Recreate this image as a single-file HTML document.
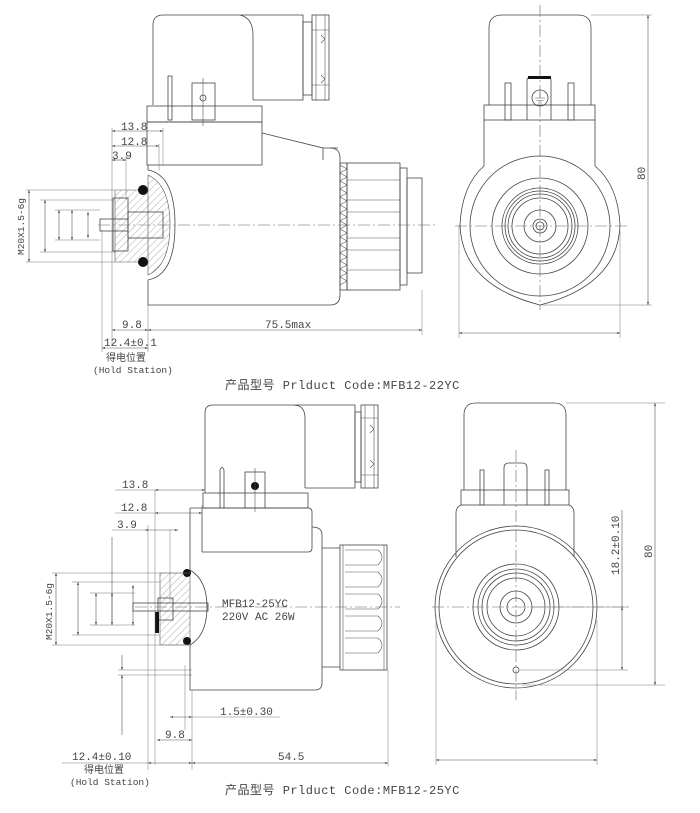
<!DOCTYPE html>
<html><head><meta charset="utf-8"><style>
html,body{margin:0;padding:0;background:#fff;}
svg{display:block;}
text{font-family:"Liberation Mono","Noto Sans CJK SC",monospace;fill:#444;font-size:11px;}
.s{fill:none;stroke:#444;stroke-width:0.8;}
.t{fill:none;stroke:#555;stroke-width:0.6;}
.c{fill:none;stroke:#666;stroke-width:0.6;stroke-dasharray:12 3 2 3;}
.h{fill:none;stroke:#777;stroke-width:0.5;}
</style></head><body>
<svg width="700" height="813" viewBox="0 0 700 813" xmlns="http://www.w3.org/2000/svg">
<defs>
<marker id="a" viewBox="0 0 10 10" refX="10" refY="5" markerWidth="7" markerHeight="5" orient="auto-start-reverse"><path d="M0,2 L10,5 L0,8z" fill="#333"/></marker>
<pattern id="hp" width="5" height="5" patternUnits="userSpaceOnUse" patternTransform="rotate(45)"><line x1="0" y1="0" x2="0" y2="5" stroke="#777" stroke-width="0.6"/></pattern>
</defs>

<!-- ============ TOP LEFT ============ -->
<g>
<path class="s" d="M153,105 V25 Q153,15 163,15 H303 V100 H253 M253,100 V35 Q253,18 240,15"/>
<rect class="s" x="303" y="22" width="9" height="73"/>
<rect class="s" x="312" y="15" width="17" height="85"/>
<path class="t" d="M316,15 V100 M325,15 V100 M312,30 H329 M312,85 H329 M321,35 l4,4 l-4,4 M321,75 l4,4 l-4,4"/>
<rect class="s" x="168" y="76" width="4" height="44"/>
<rect class="s" x="192" y="83" width="23" height="37"/>
<circle class="s" cx="203" cy="98" r="3"/>
<line class="t" x1="203" y1="78" x2="203" y2="126"/>
<rect class="s" x="147" y="106" width="115" height="16"/>
<rect class="s" x="147" y="122" width="115" height="43"/>
<path class="s" d="M262,133 L323,148 V160 M323,148 H338"/>
<path class="s" d="M148,165 V170 M148,280 V305 H330 Q340,305 340,295 V158 Q340,148 330,148"/>
<path class="s" d="M148,170 Q175,175 175,225 Q175,275 148,280"/>
<rect class="s" x="340" y="163" width="7" height="127"/>
<path class="t" d="M340,165 l7,4 l-7,4 l7,4 l-7,4 l7,4 l-7,4 l7,4 l-7,4 l7,4 l-7,4 l7,4 l-7,4 l7,4 l-7,4 l7,4 l-7,4 l7,4 l-7,4 l7,4 l-7,4 l7,4 l-7,4 l7,4 l-7,4 l7,4 l-7,4 l7,4 l-7,4 l7,4 l-7,4"/>
<rect class="s" x="347" y="163" width="53" height="127"/>
<path class="t" d="M347,180 H400 M347,200 H400 M347,212 H400 M347,238 H400 M347,250 H400 M347,270 H400"/>
<rect class="s" x="400" y="168" width="7" height="117"/>
<rect class="s" x="407" y="178" width="15" height="95"/>
<path d="M115,190 H148 V262 H115 Z M148,175 Q170,185 170,225 Q170,265 148,275 Z" fill="url(#hp)" stroke="#555" stroke-width="0.6"/>
<rect class="s" x="128" y="212" width="35" height="26" fill="#fff"/>
<rect class="s" x="100" y="219" width="28" height="12" fill="#fff"/>
<rect class="s" x="113" y="198" width="15" height="53" fill="none"/>
<circle cx="143" cy="190" r="5" fill="#111"/>
<circle cx="143" cy="262" r="5" fill="#111"/>
<line class="c" x1="98" y1="225" x2="436" y2="225"/>
<path class="h" d="M112,128 V345 M126,156 V200 M163,128 V165 M159,144 V170 M148,305 V352 M102,230 V352 M422,290 V335"/>
<line class="t" x1="112" y1="131" x2="163" y2="131" marker-start="url(#a)" marker-end="url(#a)"/>
<line class="t" x1="112" y1="146" x2="159" y2="146" marker-start="url(#a)" marker-end="url(#a)"/>
<line class="t" x1="112" y1="160" x2="126" y2="160" marker-start="url(#a)" marker-end="url(#a)"/>
<text x="121" y="130">13.8</text><text x="121" y="145">12.8</text><text x="112" y="159">3.9</text>
<line class="t" x1="112" y1="330" x2="148" y2="330" marker-start="url(#a)" marker-end="url(#a)"/>
<line class="t" x1="148" y1="330" x2="422" y2="330" marker-start="url(#a)" marker-end="url(#a)"/>
<line class="t" x1="102" y1="348" x2="148" y2="348" marker-start="url(#a)" marker-end="url(#a)"/>
<text x="122" y="328">9.8</text><text x="265" y="328">75.5max</text><text x="104" y="346">12.4±0.1</text>
<text x="106" y="361" style="font-size:10px">得电位置</text>
<text x="93" y="373" style="font-size:9.5px">(Hold Station)</text>
<path class="h" d="M26,190 H115 M40,200 H115 M55,210 H100 M55,240 H100 M26,262 H115 M40,252 H115"/>
<line class="t" x1="29" y1="190" x2="29" y2="262" marker-start="url(#a)" marker-end="url(#a)"/>
<line class="t" x1="45" y1="200" x2="45" y2="252" marker-start="url(#a)" marker-end="url(#a)"/>
<line class="t" x1="59" y1="210" x2="59" y2="240" marker-start="url(#a)" marker-end="url(#a)"/>
<line class="t" x1="72" y1="210" x2="72" y2="240" marker-start="url(#a)" marker-end="url(#a)"/>
<line class="t" x1="88" y1="212" x2="88" y2="238" marker-start="url(#a)" marker-end="url(#a)"/>
<text transform="translate(24,255) rotate(-90)" style="font-size:9.5px">M20X1.5-6g</text>
</g>
<text x="225" y="389" style="font-size:12px;letter-spacing:0.5px">产品型号 Prlduct Code:MFB12-22YC</text>

<!-- ============ TOP RIGHT ============ -->
<g>
<path class="s" d="M489,105 V28 Q489,15 502,15 H578 Q591,15 591,28 V105"/>
<rect class="s" x="484" y="105" width="111" height="15"/>
<path class="s" d="M484,120 V166 Q462,185 460,225 Q462,285 540,305 Q618,285 620,225 Q618,185 595,166 V120"/>
<circle class="s" cx="540" cy="226" r="70"/>
<circle class="s" cx="540" cy="226" r="48"/>
<circle class="s" cx="540" cy="226" r="38"/>
<circle class="s" cx="540" cy="226" r="35"/>
<circle class="s" cx="540" cy="226" r="32"/>
<circle class="s" cx="540" cy="226" r="28"/>
<circle class="s" cx="540" cy="226" r="16"/>
<circle class="s" cx="540" cy="226" r="7"/>
<circle class="s" cx="540" cy="226" r="4"/>
<rect class="s" x="505" y="83" width="6" height="37"/>
<rect class="s" x="568" y="83" width="6" height="37"/>
<path class="s" d="M527,120 V80 Q527,77 532,77 H547 Q551,77 551,80 V120"/>
<rect x="528" y="76" width="23" height="3" fill="#111"/>
<circle class="s" cx="540" cy="98" r="8"/>
<path class="t" d="M540,92 V98 M535,98 H545 M536.5,100.5 H543.5 M538,103 H542"/>
<line class="c" x1="540" y1="5" x2="540" y2="310"/>
<line class="c" x1="455" y1="226" x2="630" y2="226"/>
<path class="h" d="M591,15 H652 M540,305 H652 M459,225 V338 M620,230 V338"/>
<line class="t" x1="648" y1="15" x2="648" y2="305" marker-start="url(#a)" marker-end="url(#a)"/>
<text transform="translate(645,180) rotate(-90)">80</text>
<line class="t" x1="459" y1="333" x2="620" y2="333" marker-start="url(#a)" marker-end="url(#a)"/>
</g>

<!-- ============ BOTTOM LEFT ============ -->
<g>
<path class="s" d="M205,493 V413 Q205,405 213,405 H355 V488 H305 M305,488 V418 Q305,405 293,405"/>
<rect class="s" x="355" y="412" width="6" height="70"/>
<rect class="s" x="361" y="405" width="17" height="83"/>
<path class="t" d="M365,405 V488 M374,405 V488 M361,418 H378 M361,475 H378 M370,425 l4,4 l-4,4 M370,460 l4,4 l-4,4"/>
<path class="s" d="M220,508 V470 Q222,465 224,470 V508"/>
<rect class="s" x="245" y="472" width="20" height="36"/>
<circle cx="255" cy="486" r="4" fill="#111"/>
<line class="t" x1="255" y1="468" x2="255" y2="512"/>
<rect class="s" x="203" y="493" width="105" height="15"/>
<path class="s" d="M190,508 H308 Q312,508 312,512 V548 Q312,552 308,552 H202"/>
<path class="s" d="M190,508 V570 M190,645 V690 H315 Q322,690 322,683 V535 Q322,527 312,527"/>
<path class="s" d="M202,508 V552"/>
<path class="s" d="M190,570 Q207,580 207,607 Q207,635 190,645"/>
<path class="s" d="M322,548 H340 M322,667 H340"/>
<rect class="s" x="340" y="545" width="47" height="125"/>
<path class="t" d="M343,545 V670 M384,545 V670 M345,550 H378 Q386,557 378,565 H345 M345,572 H378 Q386,579 378,587 H345 M345,594 H378 Q386,601 378,609 H345 M345,616 H378 Q386,623 378,631 H345 M345,638 H378 Q386,645 378,653 H345"/>
<path d="M160,573 H190 V645 H160 Z" fill="url(#hp)" stroke="#555" stroke-width="0.6"/>
<rect class="s" x="158" y="598" width="15" height="22" fill="#fff"/>
<rect class="s" x="133" y="603" width="75" height="8" fill="#fff"/>
<rect x="155" y="612" width="4" height="21" fill="#111"/>
<circle cx="187" cy="573" r="4" fill="#111"/>
<circle cx="187" cy="641" r="4" fill="#111"/>
<line class="c" x1="135" y1="607" x2="400" y2="607"/>
<text x="222" y="607" style="font-size:11px">MFB12-25YC</text>
<text x="222" y="620" style="font-size:11px">220V AC 26W</text>
<path class="h" d="M155,490 V765 M148,525 V770 M170,530 V600 M192,690 V770 M185,665 V730 M205,478 V493 M202,505 V515"/>
<line class="t" x1="155" y1="490" x2="205" y2="490" marker-start="url(#a)" marker-end="url(#a)"/>
<line class="t" x1="155" y1="513" x2="202" y2="513" marker-start="url(#a)" marker-end="url(#a)"/>
<line class="t" x1="145" y1="530" x2="178" y2="530" marker-start="url(#a)" marker-end="url(#a)"/>
<path class="h" d="M115,490 H155 M115,513 H155 M112,530 H145"/>
<text x="122" y="488">13.8</text><text x="121" y="511">12.8</text><text x="117" y="528">3.9</text>
<line class="t" x1="170" y1="717" x2="192" y2="717" marker-start="url(#a)" marker-end="url(#a)"/>
<path class="h" d="M192,717 H280"/>
<text x="220" y="715">1.5±0.30</text>
<line class="t" x1="157" y1="740" x2="192" y2="740" marker-start="url(#a)" marker-end="url(#a)"/>
<text x="165" y="738">9.8</text>
<line class="t" x1="192" y1="763" x2="388" y2="763" marker-start="url(#a)" marker-end="url(#a)"/>
<path class="h" d="M388,670 V766"/>
<text x="278" y="760">54.5</text>
<line class="t" x1="148" y1="763" x2="192" y2="763" marker-start="url(#a)" marker-end="url(#a)"/>
<path class="h" d="M62,763 H148"/>
<text x="72" y="760">12.4±0.10</text>
<text x="84" y="773" style="font-size:10px">得电位置</text>
<text x="70" y="785" style="font-size:9.5px">(Hold Station)</text>
<path class="h" d="M52,573 H190 M72,582 H160 M90,593 H135 M90,625 H135 M52,645 H190 M72,635 H160 M118,670 H192 M118,675 H192"/>
<line class="t" x1="56" y1="573" x2="56" y2="645" marker-start="url(#a)" marker-end="url(#a)"/>
<line class="t" x1="78" y1="582" x2="78" y2="635" marker-start="url(#a)" marker-end="url(#a)"/>
<line class="t" x1="96" y1="593" x2="96" y2="625" marker-start="url(#a)" marker-end="url(#a)"/>
<line class="t" x1="112" y1="537" x2="112" y2="625"/>
<line class="t" x1="112" y1="593" x2="112" y2="625" marker-start="url(#a)" marker-end="url(#a)"/>
<line class="t" x1="133" y1="585" x2="133" y2="625" marker-start="url(#a)" marker-end="url(#a)"/>
<line class="t" x1="122" y1="655" x2="122" y2="670" marker-end="url(#a)"/>
<line class="t" x1="122" y1="735" x2="122" y2="675" marker-end="url(#a)"/>
<text transform="translate(52,640) rotate(-90)" style="font-size:9.5px">M20X1.5-6g</text>
</g>
<text x="225" y="794" style="font-size:12px;letter-spacing:0.5px">产品型号 Prlduct Code:MFB12-25YC</text>

<!-- ============ BOTTOM RIGHT ============ -->
<g>
<path class="s" d="M464,490 V415 Q464,403 476,403 H554 Q566,403 566,415 V490"/>
<rect class="s" x="461" y="490" width="108" height="15"/>
<path class="s" d="M461,505 Q456,507 456,513 V557 M569,505 Q574,507 574,513 V557"/>
<circle class="s" cx="516" cy="607" r="81"/>
<circle class="s" cx="516" cy="607" r="77"/>
<circle class="s" cx="516" cy="607" r="43"/>
<circle class="s" cx="516" cy="607" r="38"/>
<circle class="s" cx="516" cy="607" r="34"/>
<circle class="s" cx="516" cy="607" r="29"/>
<circle class="s" cx="516" cy="607" r="16"/>
<circle class="s" cx="516" cy="607" r="9"/>
<circle class="s" cx="516" cy="670" r="3"/>
<rect class="s" x="480" y="470" width="4" height="35"/>
<rect class="s" x="545" y="470" width="4" height="35"/>
<path class="s" d="M504,505 V468 Q504,463 509,463 H522 Q527,463 527,468 V505"/>
<line class="c" x1="516" y1="450" x2="516" y2="700"/>
<line class="c" x1="432" y1="607" x2="630" y2="607"/>
<path class="h" d="M566,403 H665 M522,685 H665 M520,670 H628 M530,607 H628 M436,615 V765 M597,620 V765"/>
<line class="t" x1="622" y1="510" x2="622" y2="607"/>
<line class="t" x1="622" y1="607" x2="622" y2="670" marker-start="url(#a)" marker-end="url(#a)"/>
<text transform="translate(619,575) rotate(-90)">18.2±0.10</text>
<line class="t" x1="655" y1="403" x2="655" y2="685" marker-start="url(#a)" marker-end="url(#a)"/>
<text transform="translate(652,558) rotate(-90)">80</text>
<line class="t" x1="436" y1="760" x2="597" y2="760" marker-start="url(#a)" marker-end="url(#a)"/>
</g>
</svg>
</body></html>
